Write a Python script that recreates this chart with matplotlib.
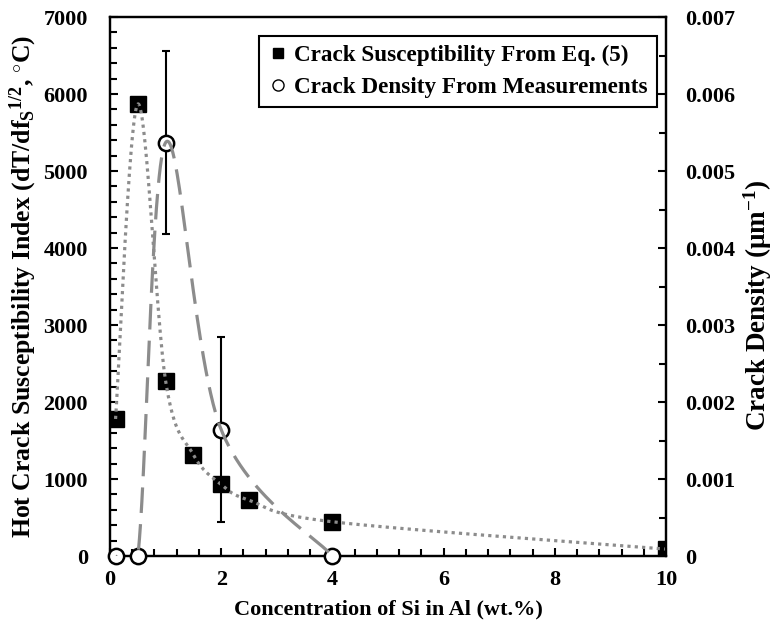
import numpy as np
import matplotlib
matplotlib.use("Agg")
import matplotlib.pyplot as plt
from matplotlib.lines import Line2D
from matplotlib.ticker import MultipleLocator, FuncFormatter

plt.rcParams['font.family'] = 'Liberation Serif'
plt.rcParams['font.weight'] = 'bold'
plt.rcParams['axes.labelweight'] = 'bold'
plt.rcParams['mathtext.fontset'] = 'custom'
plt.rcParams['mathtext.rm'] = 'Liberation Serif:bold'
plt.rcParams['mathtext.it'] = 'Liberation Serif:italic:bold'
plt.rcParams['mathtext.bf'] = 'Liberation Serif:bold'

# hot crack susceptibility index from Eq. (5)
si_index = [0.1, 0.5, 1.0, 1.5, 2.0, 2.5, 4.0, 10.0]
hcs_index = [1780, 5870, 2275, 1315, 930, 725, 445, 90]

# crack density from measurements
si_density = [0.1, 0.5, 1.0, 2.0, 4.0]
crack_density = [0.0, 0.0, 0.00537, 0.00164, 0.0]
density_err = [0.0, 0.0, 0.00119, 0.00120, 0.0]

GREY = '#8c8c8c'


def smooth(xs, ys, sx, sy, n=60):
    """Excel style smoothed line (bezier through the points)"""
    p = np.column_stack([np.asarray(xs) / sx, np.asarray(ys) / sy])
    t = np.linspace(0, 1, n)[:, None]
    parts = []
    for i in range(len(p) - 1):
        p0 = p[max(i - 1, 0)]
        p1 = p[i]
        p2 = p[i + 1]
        p3 = p[min(i + 2, len(p) - 1)]
        c1 = p1 + (p2 - p0) / 6
        c2 = p2 - (p3 - p1) / 6
        seg = (1 - t)**3 * p1 + 3 * (1 - t)**2 * t * c1 + 3 * (1 - t) * t**2 * c2 + t**3 * p2
        parts.append(seg if i == 0 else seg[1:])
    out = np.vstack(parts)
    return out[:, 0] * sx, out[:, 1] * sy


fig = plt.figure(figsize=(7.73, 6.33), dpi=100)
ax = fig.add_axes([0.1423, 0.1216, 0.7193, 0.8515])
ax2 = ax.twinx()

# left axis : susceptibility index
ax.plot(si_index, hcs_index, 's', color='black', ms=11, zorder=2)
sx, sy = smooth(si_index, hcs_index, 10, 7000)
ax.plot(sx, sy, color=GREY, lw=2.3, ls=(0, (1, 1.3)), zorder=3)

# right axis : crack density
ax2.errorbar(si_density, crack_density, yerr=density_err, fmt='none',
             ecolor='black', elinewidth=1.5, capsize=3, capthick=1.5, zorder=2)
ax2.plot(si_density, crack_density, 'o', mfc='white', mec='black', mew=1.8,
         ms=11, zorder=3, clip_on=False)
dx, dy = smooth(si_density, crack_density, 10, 0.007)
ax2.plot(dx, dy, color=GREY, lw=2.3, ls=(0, (8, 3.5)), zorder=4)

ax.set_xlim(0, 10)
ax.set_ylim(0, 7000)
ax2.set_ylim(0, 0.007)

ax.xaxis.set_major_locator(MultipleLocator(2))
ax.xaxis.set_minor_locator(MultipleLocator(0.4))
ax.yaxis.set_major_locator(MultipleLocator(1000))
ax.yaxis.set_minor_locator(MultipleLocator(200))
ax2.yaxis.set_major_locator(MultipleLocator(0.001))
ax2.yaxis.set_minor_locator(MultipleLocator(0.0005))
ax2.yaxis.set_major_formatter(FuncFormatter(lambda v, _: '0' if abs(v) < 1e-9 else f'{v:.3f}'))

ax.tick_params(axis='x', which='both', direction='in', top=False, labelsize=16, pad=10, width=1.5)
ax.tick_params(axis='x', which='major', length=6)
ax.tick_params(axis='x', which='minor', length=5)
ax.tick_params(axis='y', which='both', direction='in', right=False, labelsize=16, pad=16, width=1.5)
ax.tick_params(axis='y', which='major', length=6)
ax.tick_params(axis='y', which='minor', length=5)
ax2.tick_params(axis='y', which='both', direction='in', labelsize=16, pad=14, width=1.5)
ax2.tick_params(axis='y', which='major', length=6)
ax2.tick_params(axis='y', which='minor', length=5)

for a in (ax, ax2):
    for s in a.spines.values():
        s.set_linewidth(1.6)
        s.set_color('black')

ax.set_xlabel('Concentration of Si in Al (wt.%)', fontsize=16, labelpad=7)
ax.set_ylabel(r'Hot Crack Susceptibility Index (dT/df$_{\mathrm{S}}$$^{1/2}$, $^{\circ}$C)',
              fontsize=18.5, labelpad=3)
ax2.set_ylabel(r'Crack Density (μm$^{-1}$)', fontsize=19.5, labelpad=4)
ax2.yaxis.label.set_y(0.465)

handles = [Line2D([], [], ls='none', marker='s', color='black', ms=7),
           Line2D([], [], ls='none', marker='o', mfc='white', mec='black', mew=1, ms=8)]
labels = ['Crack Susceptibility From Eq. (5)', 'Crack Density From Measurements']
leg = ax2.legend(handles, labels, loc='upper right', bbox_to_anchor=(0.984, 0.965),
                 borderaxespad=0, fancybox=False, edgecolor='black', framealpha=1,
                 prop={'family': 'Liberation Serif', 'weight': 'bold', 'size': 16.7},
                 handlelength=0.8, handletextpad=0.3, labelspacing=0.45,
                 borderpad=0.4)
leg.get_frame().set_linewidth(1.5)

fig.savefig('out.png', dpi=100)
